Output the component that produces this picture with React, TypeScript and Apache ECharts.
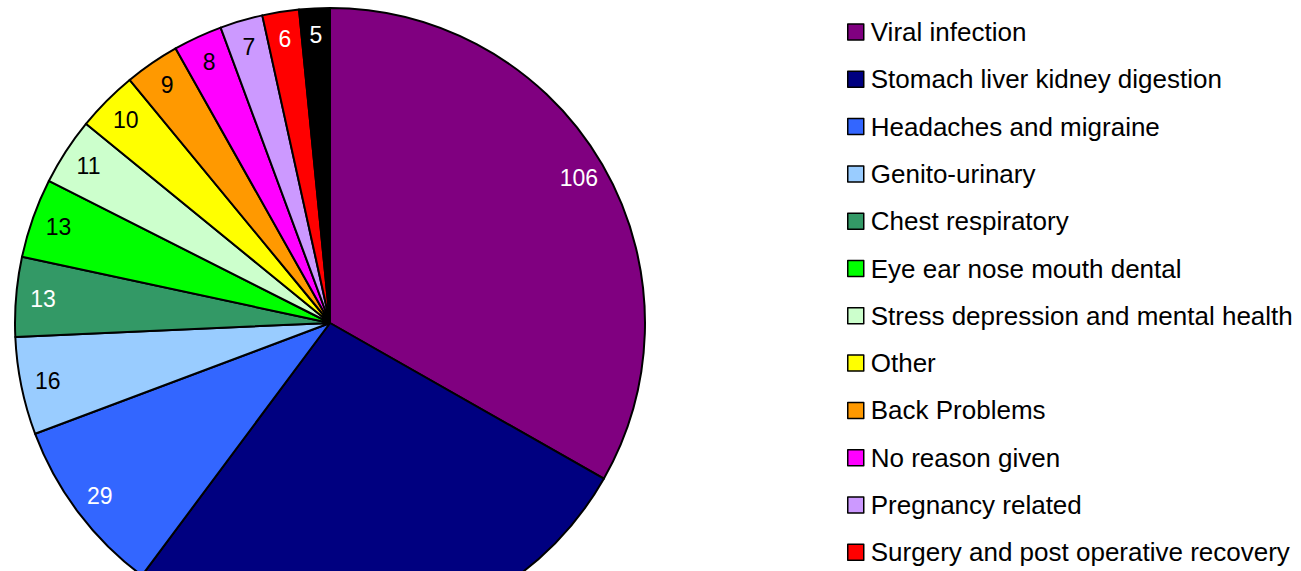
import React, { useEffect, useRef } from "react";
import * as echarts from "echarts";

const categories = [
  "Viral infection",
  "Stomach liver kidney digestion",
  "Headaches and migraine",
  "Genito-urinary",
  "Chest respiratory",
  "Eye ear nose mouth dental",
  "Stress depression and mental health",
  "Other",
  "Back Problems",
  "No reason given",
  "Pregnancy related",
  "Surgery and post operative recovery",
  "Injury",
];
const values = [106, 86, 29, 16, 13, 13, 11, 10, 9, 8, 7, 6, 5];
const colors = [
  "#800080", "#000080", "#3366FF", "#99CCFF", "#339966", "#00FF00",
  "#CCFFCC", "#FFFF00", "#FF9900", "#FF00FF", "#CC99FF", "#FF0000", "#000000",
];
const labelColors = [
  "#ffffff", "#ffffff", "#ffffff", "#000000", "#ffffff", "#000000",
  "#000000", "#000000", "#000000", "#000000", "#000000", "#ffffff", "#ffffff",
];

export default function App() {
  const ref = useRef<HTMLDivElement>(null);
  useEffect(() => {
    document.body.style.margin = "0";
    document.body.style.overflow = "hidden";
    const chart = echarts.init(ref.current!, null, { renderer: "svg" });
    const font = "Liberation Sans, Arial, sans-serif";
    const data = categories.map((name, i) => ({
      name,
      value: values[i],
      itemStyle: { color: colors[i] },
    }));
    chart.setOption({
      animation: false,
      color: colors,
      legend: {
        orient: "vertical",
        left: 842,
        top: 12,
        itemWidth: 16,
        itemHeight: 16,
        itemGap: 17.3,
        icon: "rect",
        itemStyle: { borderColor: "#000", borderWidth: 1.5 },
        textStyle: { fontSize: 26, fontFamily: font, color: "#000", lineHeight: 30, padding: [0, 0, 0, 2] },
        data: categories,
      },
      series: [
        {
          type: "pie",
          center: [330, 323],
          radius: [0, 315],
          startAngle: 90,
          clockwise: true,
          data,
          label: { show: false },
          labelLine: { show: false },
          itemStyle: { borderColor: "#000", borderWidth: 2 },
          emphasis: { disabled: true },
        },
        {
          type: "pie",
          center: [330, 323],
          radius: [255, 315],
          startAngle: 90,
          clockwise: true,
          silent: true,
          legendHoverLink: false,
          data: categories.map((name, i) => ({
            name,
            value: values[i],
            itemStyle: { color: "transparent", borderWidth: 0 },
            label: { color: labelColors[i], fontSize: 23, fontFamily: font },
          })),
          label: {
            show: true,
            position: "inside",
            formatter: "{c}",
            fontSize: 23,
            fontFamily: font,
          },
          labelLine: { show: false },
          emphasis: { disabled: true },
        },
      ],
    });
    return () => chart.dispose();
  }, []);
  return <div ref={ref} style={{ width: 1301, height: 700 }} />;
}
